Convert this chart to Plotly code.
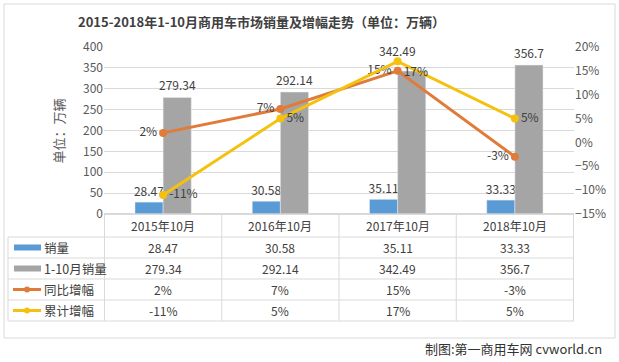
import plotly.graph_objects as go

categories = ["2015年10月", "2016年10月", "2017年10月", "2018年10月"]
sales_oct = [28.47, 30.58, 35.11, 33.33]
sales_ytd = [279.34, 292.14, 342.49, 356.7]
yoy_growth = [0.02, 0.07, 0.15, -0.03]
cum_growth = [-0.11, 0.05, 0.17, 0.05]
series_names = ["销量", "1-10月销量", "同比增幅", "累计增幅"]

W, H = 619, 362
L, R, T, B = 104, 45, 47, 148
PW, PH = W - L - R, H - T - B

def px_x(px):
    return (px - L) / PW

def px_y(py):
    return (H - B - py) / PH

BLUE = "#5B9BD5"
GRAY = "#A5A5A5"
ORANGE = "#E07B39"
YELLOW = "#F5C10F"
TXT = "#404040"
FONT = "Noto Sans CJK SC"

fig = go.Figure()
fig.add_trace(go.Bar(x=categories, y=sales_oct, name=series_names[0], marker_color=BLUE,
                     text=[f"{v:g}" for v in sales_oct], textposition="outside",
                     constraintext="none",
                     textfont=dict(size=12, color=TXT), cliponaxis=False))
fig.add_trace(go.Bar(x=categories, y=sales_ytd, name=series_names[1], marker_color=GRAY,
                     cliponaxis=False))
fig.add_trace(go.Scatter(x=categories, y=yoy_growth, name=series_names[2], yaxis="y2",
                         mode="lines+markers+text", line=dict(color=ORANGE, width=3),
                         marker=dict(size=8, color=ORANGE),
                         text=[f"{v:.0%}" for v in yoy_growth], textposition="middle left",
                         textfont=dict(size=12, color=TXT), cliponaxis=False))
fig.add_trace(go.Scatter(x=categories, y=cum_growth, name=series_names[3], yaxis="y2",
                         mode="lines+markers+text", line=dict(color=YELLOW, width=3),
                         marker=dict(size=8, color=YELLOW),
                         text=[f"{v:.0%}" for v in cum_growth],
                         textposition=["middle right", "middle right", "bottom right", "middle right"],
                         textfont=dict(size=12, color=TXT), cliponaxis=False))

shapes = []
annotations = []
LINE = "#D9D9D9"

# gray bar data labels (anchored to each bar's value on the axes)
gray_xshift = [14, 14, 0, 14]
gray_yshift = [2, 2, 10, 2]
for c, v, xs, ys in zip(categories, sales_ytd, gray_xshift, gray_yshift):
    annotations.append(dict(x=c, xref="x", y=v, yref="y", text=f"{v:g}", showarrow=False,
                            xshift=xs, yshift=ys, yanchor="bottom",
                            font=dict(size=12, color=TXT, family=FONT)))

row_tops = [214, 237, 258, 279, 300, 321]
x_left_px = 8
for i, yt in enumerate(row_tops):
    x0 = px_x(104) if i == 0 else px_x(x_left_px)
    shapes.append(dict(type="line", xref="paper", yref="paper", x0=x0, x1=1,
                       y0=px_y(yt), y1=px_y(yt), line=dict(color=LINE, width=1)))
for k in range(len(categories) + 1):
    shapes.append(dict(type="line", xref="x", yref="paper", x0=k - 0.5, x1=k - 0.5,
                       y0=px_y(214), y1=px_y(321), line=dict(color=LINE, width=1)))
shapes.append(dict(type="line", xref="paper", yref="paper", x0=px_x(x_left_px), x1=px_x(x_left_px),
                   y0=px_y(237), y1=px_y(321), line=dict(color=LINE, width=1)))

for c in categories:
    annotations.append(dict(x=c, xref="x", y=px_y(226), yref="paper", yanchor="middle",
                            text=c, showarrow=False, font=dict(size=12, color=TXT, family=FONT)))
rows = [
    [f"{v:g}" for v in sales_oct],
    [f"{v:g}" for v in sales_ytd],
    [f"{v:.0%}" for v in yoy_growth],
    [f"{v:.0%}" for v in cum_growth],
]
for r, vals in enumerate(rows):
    yc = (row_tops[r + 1] + row_tops[r + 2]) / 2
    for c, v in zip(categories, vals):
        annotations.append(dict(x=c, xref="x", y=px_y(yc), yref="paper", yanchor="middle",
                                text=v, showarrow=False, font=dict(size=12, color=TXT, family=FONT)))
    annotations.append(dict(x=px_x(42), xref="paper", y=px_y(yc), yref="paper", yanchor="middle",
                            text=series_names[r], showarrow=False, xanchor="left",
                            font=dict(size=12.5, color=TXT, family=FONT)))
    if r < 2:
        col = BLUE if r == 0 else GRAY
        shapes.append(dict(type="rect", xref="paper", yref="paper", x0=px_x(14), x1=px_x(41),
                           y0=px_y(yc + 3), y1=px_y(yc - 3), fillcolor=col, line=dict(width=0)))
    else:
        col = ORANGE if r == 2 else YELLOW
        shapes.append(dict(type="line", xref="paper", yref="paper", x0=px_x(13), x1=px_x(41),
                           y0=px_y(yc), y1=px_y(yc), line=dict(color=col, width=3)))
        shapes.append(dict(type="circle", xref="paper", yref="paper", x0=px_x(24), x1=px_x(30),
                           y0=px_y(yc + 3), y1=px_y(yc - 3), fillcolor=col, line=dict(width=0)))

annotations.append(dict(x=px_x(46), xref="paper", y=px_y(131), yref="paper", yanchor="middle",
                        text="单位：万辆", textangle=-90, showarrow=False,
                        font=dict(size=13, color="#595959", family=FONT)))
annotations.append(dict(x=px_x(604), xref="paper", y=px_y(348), yref="paper", yanchor="middle",
                        text="制图:第一商用车网 cvworld.cn", showarrow=False, xanchor="right",
                        font=dict(size=13, color="#333333", family=FONT)))
shapes.append(dict(type="rect", xref="paper", yref="paper", x0=px_x(4), x1=px_x(615),
                   y0=px_y(4), y1=px_y(338), line=dict(color="#D9D9D9", width=1), layer="below"))

fig.update_layout(
    width=W, height=H,
    margin=dict(l=L, r=R, t=T, b=B),
    paper_bgcolor="white", plot_bgcolor="white",
    font=dict(family=FONT, size=12, color="#595959"),
    title=dict(text="<b>2015-2018年1-10月商用车市场销量及增幅走势（单位：万辆）</b>",
               x=78 / W, xref="container", xanchor="left", y=1 - 22 / H, yanchor="middle",
               font=dict(size=13, color=TXT, family=FONT)),
    barmode="group", bargap=0.52, bargroupgap=0,
    showlegend=False,
    xaxis=dict(type="category", showticklabels=False, showgrid=False, zeroline=False,
               showline=False, ticks=""),
    yaxis=dict(range=[0, 400], dtick=50, showgrid=True, gridcolor="#D9D9D9", zeroline=True,
               zerolinecolor="#D9D9D9", tickfont=dict(size=12, color="#595959"), ticks=""),
    yaxis2=dict(range=[-0.15, 0.20], dtick=0.05, tickformat=".0%", overlaying="y", side="right",
                showgrid=False, zeroline=False, tickfont=dict(size=12, color="#595959"), ticks=""),
    shapes=shapes, annotations=annotations,
)

fig.write_html("out.html", config={"displayModeBar": False},
               post_script="document.body.style.margin='0px';")
